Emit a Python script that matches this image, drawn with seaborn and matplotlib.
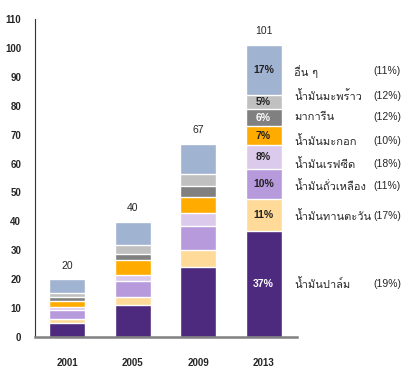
import matplotlib
matplotlib.use("Agg")
import matplotlib.pyplot as plt
from matplotlib import font_manager
from matplotlib.ft2font import FT2Font
import pandas as pd
import seaborn as sns

years = ["2001", "2005", "2009", "2013"]
totals = [20, 40, 67, 101]
oils = ["น้ำมันปาล์ม", "น้ำมันทานตะวัน", "น้ำมันถั่วเหลือง", "น้ำมันเรฟซีด",
        "น้ำมันมะกอก", "มาการีน", "น้ำมันมะพร้าว", "อื่น ๆ"]
palm = [4.7, 10.9, 24.2, 36.6]
sunflower = [1.5, 3.1, 6.0, 11.2]
soybean = [3.2, 5.4, 8.3, 10.4]
rapeseed = [0.8, 2.1, 4.5, 8.1]
olive = [2.3, 5.2, 5.3, 6.7]
margarine = [1.4, 2.1, 3.8, 5.8]
coconut = [1.4, 2.9, 4.2, 4.9]
other = [4.7, 8.1, 10.6, 17.3]
share_2013 = [37, 11, 10, 8, 7, 6, 5, 17]
growth = [19, 17, 11, 18, 10, 12, 12, 11]

colors = ["#4e2a7e", "#ffda98", "#b69adc", "#dccaec",
          "#ffab00", "#808080", "#c0c0c0", "#a0b3d0"]
label_y = [18.4, 42.0, 52.1, 59.7, 67.7, 76.0, 83.3, 92.0]


def thai_font():
    # first installed font that actually has Thai glyphs
    for f in font_manager.fontManager.ttflist:
        try:
            if 0x0E19 in FT2Font(f.fname).get_charmap():
                return f.name
        except Exception:
            pass
    return "DejaVu Sans"


sns.set_style("white")
thai = thai_font()
plt.rcParams["font.family"] = ["Liberation Sans", thai, "DejaVu Sans"]

series = [palm, sunflower, soybean, rapeseed, olive, margarine, coconut, other]
rows = []
for oil, vals in zip(oils, series):
    for yr, v in zip(years, vals):
        rows.append({"year": yr, "oil": oil, "value": v})
df = pd.DataFrame(rows)
df["cum"] = df.groupby("year")["value"].cumsum()

fig = plt.figure(figsize=(4.13, 3.74), dpi=100)
ax = fig.add_axes([0.085, 0.099, 0.634, 0.85])

# stacked bars: draw cumulative heights from the top layer down
for oil, c in zip(oils[::-1], colors[::-1]):
    sns.barplot(data=df[df["oil"] == oil], x="year", y="cum", order=years,
                color=c, saturation=1, width=0.55, errorbar=None, ax=ax)

for i, t in enumerate(totals):
    ax.text(i, t + 3, str(t), ha="center", va="bottom", fontsize=7.5)

# share labels inside 2013 bar
d13 = df[df["year"] == "2013"].reset_index(drop=True)
for k in range(len(oils)):
    mid = d13.loc[k, "cum"] - d13.loc[k, "value"] / 2
    col = "white" if k in (0, 5) else "#222222"
    ax.text(3, mid, f"{share_2013[k]}%", ha="center", va="center",
            fontsize=7.5, fontweight="bold", color=col)

for k, oil in enumerate(oils):
    ax.text(3.47, label_y[k], oil, ha="left", va="center", fontsize=8,
            family=[thai, "DejaVu Sans"], clip_on=False)
    ax.text(4.67, label_y[k], f"({growth[k]}%)", ha="left", va="center",
            fontsize=7.5, clip_on=False)

ax.set_xlim(-0.49, 3.51)
ax.set_ylim(0, 110)
ax.set_yticks(range(0, 111, 10))
ax.set_xlabel("")
ax.set_ylabel("")
for s in ["top", "right"]:
    ax.spines[s].set_visible(False)
ax.spines["left"].set_color("#333333")
ax.spines["left"].set_linewidth(0.8)
ax.spines["bottom"].set_color("#808080")
ax.spines["bottom"].set_linewidth(1.8)
ax.tick_params(axis="y", length=4, width=0.8, color="#808080", pad=6,
               labelsize=7)
ax.tick_params(axis="x", length=0, pad=15, labelsize=7)
for lbl in ax.get_xticklabels() + ax.get_yticklabels():
    lbl.set_fontweight("bold")

fig.savefig("out.png", dpi=100)
